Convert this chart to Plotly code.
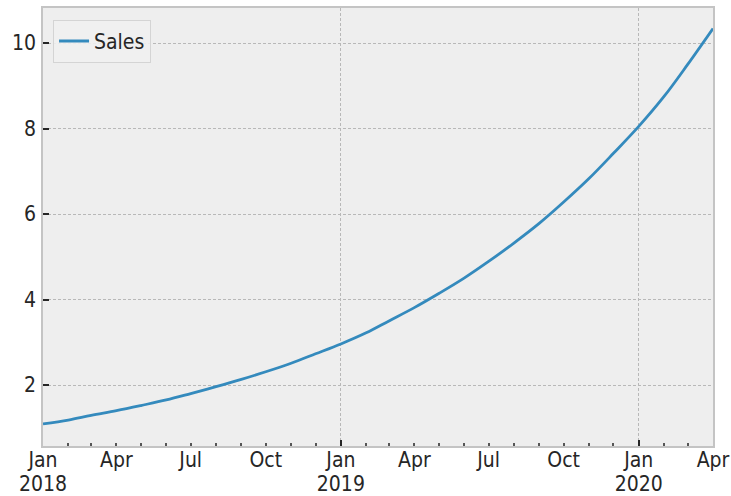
import plotly.graph_objects as go
import pandas as pd

# Monthly sales values (Jan 2018 .. Apr 2020)
months = pd.date_range("2018-01-01", "2020-04-01", freq="MS").strftime("%Y-%m-%d").tolist()
sales = [1.09, 1.18, 1.29, 1.40, 1.52, 1.65, 1.80, 1.96, 2.13, 2.31, 2.51, 2.73,
         2.96, 3.22, 3.50, 3.81, 4.14, 4.50, 4.89, 5.32, 5.78, 6.28, 6.83, 7.42,
         8.05, 8.75, 9.50, 10.34]

major_ticks = ["2018-01-01", "2019-01-01", "2020-01-01"]
major_text = ["Jan", "Jan", "Jan"]
year_text = ["2018", "2019", "2020"]
minor_ticks = ["2018-04-01", "2018-07-01", "2018-10-01", "2019-04-01",
               "2019-07-01", "2019-10-01", "2020-04-01"]
minor_text = ["Apr", "Jul", "Oct", "Apr", "Jul", "Oct", "Apr"]
y_ticks = [2, 4, 6, 8, 10]

font = dict(family="DejaVu Sans Condensed, DejaVu Sans", size=21, color="#262626")
frame = "#c4c4c4"
grid = "#b8b8b8"
xr = [months[0], months[-1]]

fig = go.Figure()
fig.add_trace(go.Scatter(x=months, y=sales, mode="lines", name="Sales",
                         line=dict(color="#348ABD", width=2.8, shape="spline")))
# invisible traces to activate the overlay x axes
for ax in ("x2", "x3"):
    fig.add_trace(go.Scatter(x=months, y=sales, mode="lines", xaxis=ax,
                             line=dict(width=0, color="rgba(0,0,0,0)"),
                             showlegend=False, hoverinfo="skip"))

fig.update_layout(
    width=731, height=496,
    margin=dict(l=43, r=18, t=8, b=50, autoexpand=False),
    paper_bgcolor="white", plot_bgcolor="#eeeeee",
    font=font,
    showlegend=True,
    legend=dict(x=0.015, y=0.973, xanchor="left", yanchor="top",
                bgcolor="rgba(240,240,240,0.9)", bordercolor="#d4d4d4",
                borderwidth=1, font=font),
    xaxis=dict(type="date", range=xr, tickvals=major_ticks, ticktext=major_text,
               ticks="inside", ticklen=6, tickwidth=1.5, tickcolor="#262626",
               showgrid=True, gridcolor=grid, griddash="3px,2px", gridwidth=1,
               showline=True, linecolor=frame, linewidth=1.5, mirror=True,
               zeroline=False, tickfont=font, automargin=False,
               ticklabelstandoff=-6, ticklabeloverflow="allow",
               minor=dict(dtick="M1", ticks="inside", ticklen=3, tickcolor="#555555",
                          showgrid=False)),
    xaxis2=dict(type="date", range=xr, overlaying="x", side="bottom",
                tickvals=minor_ticks, ticktext=minor_text, ticks="",
                showgrid=False, showline=False, zeroline=False, tickfont=font,
                automargin=False, ticklabelstandoff=-1, ticklabeloverflow="allow"),
    xaxis3=dict(type="date", range=xr, overlaying="x", side="bottom",
                tickvals=major_ticks, ticktext=year_text, ticks="",
                showgrid=False, showline=False, zeroline=False, tickfont=font,
                automargin=False, ticklabelstandoff=23, ticklabeloverflow="allow"),
    yaxis=dict(range=[0.573, 10.82], tickvals=y_ticks,
               ticks="inside", ticklen=6, tickwidth=1.5, tickcolor="#262626",
               showgrid=True, gridcolor=grid, griddash="3px,2px", gridwidth=1,
               showline=True, linecolor=frame, linewidth=1.5, mirror=True,
               zeroline=False, tickfont=font, automargin=False, ticklabelstandoff=1),
)

fig.write_html("out.html", config={"displayModeBar": False},
               post_script="document.body.style.margin='0';document.body.style.overflow='hidden';")
